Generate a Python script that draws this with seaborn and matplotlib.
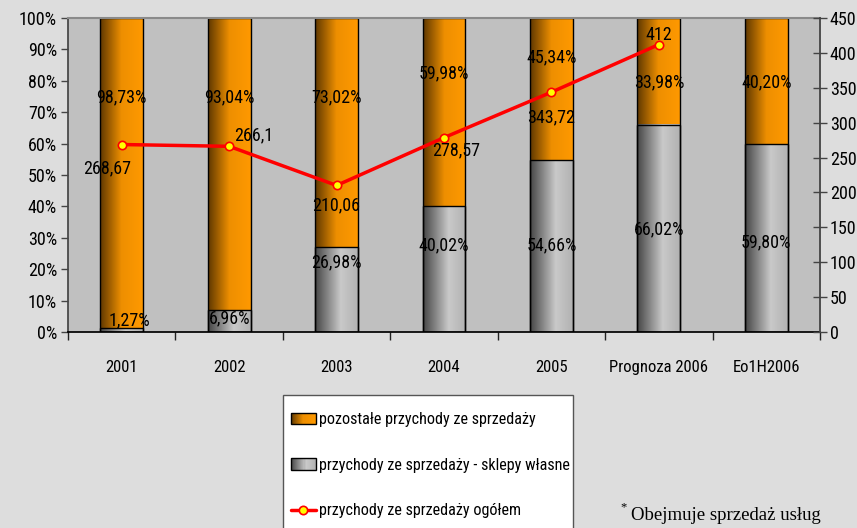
import numpy as np
import pandas as pd
import matplotlib
matplotlib.use('Agg')
import matplotlib.pyplot as plt
import seaborn as sns
from matplotlib.colors import LinearSegmentedColormap
from matplotlib.legend_handler import HandlerBase
from matplotlib.patches import Rectangle
from matplotlib.lines import Line2D

# data
years = ['2001', '2002', '2003', '2004', '2005', 'Prognoza 2006', 'Eo1H2006']
own_shops = [1.27, 6.96, 26.98, 40.02, 54.66, 66.02, 59.80]
other_sales = [98.73, 93.04, 73.02, 59.98, 45.34, 33.98, 40.20]
total_sales = [268.67, 266.1, 210.06, 278.57, 343.72, 412]
total_labels = ['268,67', '266,1', '210,06', '278,57', '343,72', '412']

# label placement (layout only)
other_lab_y = [74.8, 74.8, 74.8, 82.5, 87.6, 79.6, 79.6]
own_lab_y = [3.8, 4.5, 22.3, 27.7, 27.7, 32.8, 28.7]
own_lab_dx = [0.07, 0, 0, 0, 0, 0, 0]
total_lab_dx = [-0.14, 0.23, 0, 0.11, 0, 0]
total_lab_y = [235, 282, 182, 261, 308, 426]

FS = 13      # data labels
TICK_FS = 13
CAT_FS = 12
LEG_FS = 11.6


def pct(v):
    return f'{v:.2f}%'.replace('.', ',')


sns.set_theme(style='ticks')
plt.rcParams['font.family'] = ['Roboto Condensed', 'Liberation Sans Narrow',
                               'Liberation Sans', 'DejaVu Sans']
plt.rcParams['text.color'] = 'black'
plt.rcParams['xtick.color'] = 'black'
plt.rcParams['ytick.color'] = 'black'
plt.rcParams['xtick.labelcolor'] = 'black'
plt.rcParams['ytick.labelcolor'] = 'black'

fig = plt.figure(figsize=(8.57, 5.28), dpi=100, facecolor='#dddddd')
ax = fig.add_axes([68 / 857, 1 - 332 / 528, (820 - 68) / 857, (332 - 18) / 528])
ax.set_facecolor('#c0c0c0')

df = pd.DataFrame({'year': years, 'own': own_shops,
                   'top': [a + b for a, b in zip(own_shops, other_sales)]})

sns.barplot(data=df, x='year', y='top', color='#ff9900', saturation=1,
            width=0.4, edgecolor='black', linewidth=1, ax=ax)
sns.barplot(data=df, x='year', y='own', color='#b0b0b0', saturation=1,
            width=0.4, edgecolor='black', linewidth=1, ax=ax)

# horizontal gradient fill like the excel bars
orange_cmap = LinearSegmentedColormap.from_list(
    'orng', [(0, '#5e3700'), (0.5, '#ee8f00'), (1, '#ff9900')])
grey_cmap = LinearSegmentedColormap.from_list(
    'gry', [(0, '#454545'), (0.6, '#c9c9c9'), (1, '#b2b2b2')])
grad = np.linspace(0, 1, 256).reshape(1, -1)
n = len(years)
for i, patch in enumerate(ax.patches):
    cmap = orange_cmap if i < n else grey_cmap
    x0, y0 = patch.get_x(), patch.get_y()
    w, h = patch.get_width(), patch.get_height()
    ax.imshow(grad, cmap=cmap, extent=(x0, x0 + w, y0, y0 + h),
              aspect='auto', zorder=0.5 if i < n else 0.6)
    patch.set_facecolor('none')

ax.set_xlim(-0.5, n - 0.5)
ax.set_ylim(0, 100)
ax.set_xlabel('')
ax.set_ylabel('')

for i in range(n):
    ax.text(i, other_lab_y[i], pct(other_sales[i]), ha='center', va='center',
            fontsize=FS, zorder=3)
    ax.text(i + own_lab_dx[i], own_lab_y[i], pct(own_shops[i]), ha='center',
            va='center', fontsize=FS, zorder=3)

ax.set_yticks(range(0, 101, 10))
ax.set_yticklabels([f'{v}%' for v in range(0, 101, 10)])
ax.tick_params(axis='y', direction='out', length=5, width=1, color='#444444',
               labelsize=TICK_FS, left=True, pad=3)
ax.set_xticks(range(n))
ax.set_xticklabels(years)
ax.tick_params(axis='x', which='major', length=0, pad=20, labelsize=CAT_FS)
ax.set_xticks(np.arange(-0.5, n, 1), minor=True)
ax.tick_params(axis='x', which='minor', direction='out', length=6, width=1,
               color='#222222', bottom=True)
ax.spines['top'].set_color('#8a8a8a')
ax.spines['top'].set_linewidth(1.5)
ax.spines['left'].set_color('#444444')
ax.spines['bottom'].set_color('black')
ax.spines['right'].set_visible(False)

# secondary axis with total sales
ax2 = ax.twinx()
pos = list(range(len(total_sales)))
sns.lineplot(x=pos, y=total_sales, ax=ax2, color='red', linewidth=2.5,
             marker='o', markersize=6, markerfacecolor='yellow',
             markeredgecolor='red', markeredgewidth=1.2)
for i, lab in enumerate(total_labels):
    ax2.text(i + total_lab_dx[i], total_lab_y[i], lab, ha='center',
             va='center', fontsize=FS)
ax2.set_ylim(0, 450)
ax2.set_xlim(-0.5, n - 0.5)
ax2.set_yticks(range(0, 451, 50))
ax2.tick_params(axis='y', direction='inout', length=10, width=1,
                color='#444444', labelsize=TICK_FS, right=True, pad=2)
for s in ['left', 'top', 'bottom']:
    ax2.spines[s].set_visible(False)
ax2.spines['right'].set_color('#444444')
ax2.spines['right'].set_linewidth(1.3)


class GradientHandler(HandlerBase):
    def __init__(self, cmap):
        super().__init__()
        self.cmap = cmap

    def create_artists(self, legend, orig_handle, xdescent, ydescent, width,
                       height, fontsize, trans):
        k = 24
        arts = []
        for j in range(k):
            arts.append(Rectangle((-xdescent + width * j / k, -ydescent),
                                  width / k, height,
                                  facecolor=self.cmap((j + 0.5) / k),
                                  edgecolor='none', transform=trans))
        arts.append(Rectangle((-xdescent, -ydescent), width, height,
                              facecolor='none', edgecolor='black', lw=1,
                              transform=trans))
        return arts


# white legend box, running off the bottom edge like the original
fig.patches.append(Rectangle((283 / 857, -0.02), (573 - 283) / 857,
                             (528 - 395) / 528 + 0.02,
                             transform=fig.transFigure, facecolor='white',
                             edgecolor='#555555', lw=1, zorder=0))

h_other = Rectangle((0, 0), 1, 1)
h_own = Rectangle((0, 0), 1, 1)
h_line = Line2D([], [], color='red', lw=2.5, marker='o', markersize=6,
                markerfacecolor='yellow', markeredgecolor='red',
                markeredgewidth=1.2)
fig.legend([h_other, h_own, h_line],
           ['pozostałe przychody ze sprzedaży',
            'przychody ze sprzedaży - sklepy własne',
            'przychody ze sprzedaży ogółem'],
           handler_map={h_other: GradientHandler(orange_cmap),
                        h_own: GradientHandler(grey_cmap)},
           loc='upper left', bbox_to_anchor=(291 / 857, 1 - 412 / 528),
           frameon=False, fontsize=LEG_FS, labelspacing=1.9,
           handlelength=1.55, handleheight=0.7, handletextpad=0.2,
           borderpad=0, borderaxespad=0)

fig.text(620 / 857, 1 - 507 / 528, '*', family='Liberation Serif',
         fontsize=9, va='center', ha='left')
fig.text(631 / 857, 1 - 515 / 528, 'Obejmuje sprzedaż usług',
         family='Liberation Serif', fontsize=13.5, va='center', ha='left')

fig.savefig('out.png', dpi=100, facecolor=fig.get_facecolor())
